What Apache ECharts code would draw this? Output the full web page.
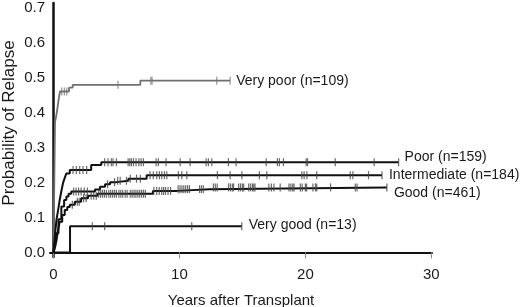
<!DOCTYPE html>
<html>
<head>
<meta charset="utf-8">
<script src="https://cdn.jsdelivr.net/npm/echarts@6/dist/echarts.min.js"></script>
<style>
  html, body { margin: 0; padding: 0; background: #fff; }
  #chart { width: 520px; height: 307px; }
</style>
</head>
<body>
<div id="chart"></div>
<script>
// tick labels
const xTicks = [0, 10, 20, 30];
const yTicks = [0, 0.1, 0.2, 0.3, 0.4, 0.5, 0.6, 0.7];

// step curves: event times (years) and cumulative incidence
const veryPoorT = [0, 0.13, 0.2, 0.26, 0.33, 0.39, 0.46, 0.52, 1.24, 1.53, 6.9];
const veryPoorP = [0, 0.374, 0.385, 0.398, 0.415, 0.431, 0.447, 0.46, 0.471, 0.479, 0.491];
const veryPoorEnd = 14.03;
const veryPoorCens = [0.66, 0.87, 1.06, 5.13, 7.73, 7.83, 12.97, 14.03];

const poorT = [0, 0.05, 0.15, 0.25, 0.37, 0.5, 0.63, 0.76, 0.9, 1.03, 1.3, 3.0, 3.8];
const poorP = [0, 0.02, 0.06, 0.095, 0.12, 0.15, 0.175, 0.198, 0.213, 0.226, 0.236, 0.25, 0.258];
const poorEnd = 27.4;
const poorCens = [1.56, 1.82, 2.09, 2.35, 2.64, 4.07, 4.34, 4.6, 4.73, 5.0, 5.93, 6.06, 6.19, 6.35,
  6.56, 6.78, 6.96, 7.14, 8.15, 8.33, 8.94, 10.06, 10.85, 12.12, 12.3, 12.57, 13.89, 14.5, 16.89,
  17.78, 17.94, 18.26, 20.06, 20.17, 22.37, 25.46, 27.4];

const interT = [0, 0.08, 0.23, 0.4, 0.63, 0.85, 1.03, 1.2, 1.42, 3.3, 3.7, 4.1, 4.5, 5.0, 5.95, 7.4];
const interP = [0, 0.02, 0.055, 0.095, 0.131, 0.15, 0.16, 0.168, 0.174, 0.18, 0.188, 0.195, 0.201, 0.205, 0.211, 0.221];
const interEnd = 26.08;
const interCens = [1.6, 1.8, 2.0, 2.2, 2.45, 2.7, 4.3, 4.85, 5.1, 5.3, 5.8, 6.1, 6.6, 6.9, 7.67, 7.93,
  8.2, 8.41, 8.6, 8.81, 9.0, 9.92, 10.19, 10.59, 13.02, 14.03, 14.96, 16.35, 16.94, 19.72, 19.9,
  20.12, 20.9, 23.56, 23.77, 25.01, 26.08];

const goodT = [0, 0.1, 0.23, 0.35, 0.5, 0.7, 0.9, 1.1, 1.3, 1.7, 2.2, 2.75, 3.5, 7.9, 9.8, 12.4];
const goodP = [0, 0.01, 0.031, 0.06, 0.088, 0.107, 0.121, 0.13, 0.136, 0.145, 0.155, 0.162, 0.168, 0.176, 0.181, 0.186];
const goodEnd = 26.47;
const goodCens = [1.5, 1.9, 2.05, 2.4, 2.6, 3.0, 3.2, 3.4, 3.6, 3.75, 3.9, 4.05, 4.2, 4.4, 4.55, 4.7,
  4.85, 5.0, 5.2, 5.35, 5.5, 5.7, 5.85, 6.1, 6.25, 6.4, 6.55, 6.7, 6.85, 7.0, 7.15, 7.3, 7.97, 8.2,
  8.4, 8.6, 8.75, 8.9, 9.1, 9.3, 9.9, 10.05, 10.2, 10.35, 10.5, 10.65, 10.8, 11.6, 11.75, 11.9,
  12.7, 12.85, 13.0, 13.9, 14.05, 14.2, 14.3, 14.7, 14.85, 15.0, 15.1, 15.5, 15.65, 15.8, 15.9,
  16.0, 17.1, 17.3, 17.5, 18.0, 18.7, 18.85, 19.0, 19.1, 19.6, 19.75, 20.0, 20.1, 20.6, 20.8,
  20.9, 22.0, 23.96, 24.1, 26.47];

const veryGoodT = [0, 1.32];
const veryGoodP = [0, 0.075];
const veryGoodEnd = 14.95;
const veryGoodCens = [3.09, 4.07, 10.98, 14.95];

const FONT = '"Liberation Sans", Arial, sans-serif';

// curve points incl. the flat tail to the last follow-up
const toCurve = (ts, ps, end) => {
  const pts = ts.map((t, i) => [t, ps[i]]);
  pts.push([end, ps[ps.length - 1]]);
  return pts;
};

// censor marks sit on the curve level at that time
const toCens = (ts, ps, cens) => cens.map((c) => {
  let p = 0;
  ts.forEach((t, i) => { if (t <= c) p = ps[i]; });
  return [c, p];
});

const groups = [
  { name: 'Very poor (n=109)', t: veryPoorT, p: veryPoorP, end: veryPoorEnd, cens: veryPoorCens,
    color: '#6f6f6f', tick: '#777', width: 1.8, offset: [0, 0] },
  { name: 'Poor (n=159)', t: poorT, p: poorP, end: poorEnd, cens: poorCens,
    color: '#111', tick: '#444', width: 2, offset: [0, -5] },
  { name: 'Intermediate (n=184)', t: interT, p: interP, end: interEnd, cens: interCens,
    color: '#111', tick: '#444', width: 2, offset: [1, 0] },
  { name: 'Good (n=461)', t: goodT, p: goodP, end: goodEnd, cens: goodCens,
    color: '#111', tick: '#444', width: 2, offset: [1, 6] },
  { name: 'Very good (n=13)', t: veryGoodT, p: veryGoodP, end: veryGoodEnd, cens: veryGoodCens,
    color: '#111', tick: '#444', width: 2, offset: [1, -1] },
];

const series = [];
groups.forEach((g) => {
  series.push({
    name: g.name,
    type: 'line',
    step: 'end',
    showSymbol: false,
    data: toCurve(g.t, g.p, g.end),
    lineStyle: { color: g.color, width: g.width },
    endLabel: {
      show: true,
      formatter: g.name,
      color: '#1a1a1a',
      fontSize: 14,
      fontFamily: FONT,
      distance: 6,
      offset: g.offset,
    },
    z: 3,
  });
  series.push({
    type: 'scatter',
    symbol: 'rect',
    symbolSize: [1.2, 8],
    data: toCens(g.t, g.p, g.cens),
    itemStyle: { color: g.tick },
    z: 4,
  });
});

const chart = echarts.init(document.getElementById('chart'));
chart.setOption({
  animation: false,
  backgroundColor: '#fff',
  grid: { left: 50, right: 88, top: 3, bottom: 50, containLabel: false, outerBoundsMode: 'none' },
  xAxis: {
    type: 'value',
    min: -0.27,
    max: 30.05,
    name: 'Years after Transplant',
    nameLocation: 'middle',
    nameGap: 36,
    nameMoveOverlap: false,
    nameTextStyle: { fontSize: 15, fontFamily: FONT, color: '#1a1a1a' },
    axisLine: { lineStyle: { color: '#111', width: 2 } },
    axisTick: { show: true, length: 6, customValues: xTicks, lineStyle: { color: '#888' } },
    axisLabel: { customValues: xTicks, margin: 10, fontSize: 15, fontFamily: FONT, color: '#1a1a1a' },
    splitLine: { show: false },
  },
  yAxis: {
    type: 'value',
    min: -0.013,
    max: 0.713,
    name: 'Probability of Relapse',
    nameLocation: 'middle',
    nameGap: 32,
    nameMoveOverlap: false,
    nameTextStyle: { fontSize: 17, fontFamily: FONT, color: '#1a1a1a', padding: [0, 0, 0, 14] },
    axisLine: { show: true, lineStyle: { color: '#111', width: 2.5 } },
    axisTick: { show: false },
    axisLabel: {
      customValues: yTicks,
      margin: 5,
      fontSize: 15,
      fontFamily: FONT,
      color: '#1a1a1a',
      formatter: (v) => v.toFixed(1),
    },
    splitLine: { show: false },
  },
  series,
});
</script>
</body>
</html>
